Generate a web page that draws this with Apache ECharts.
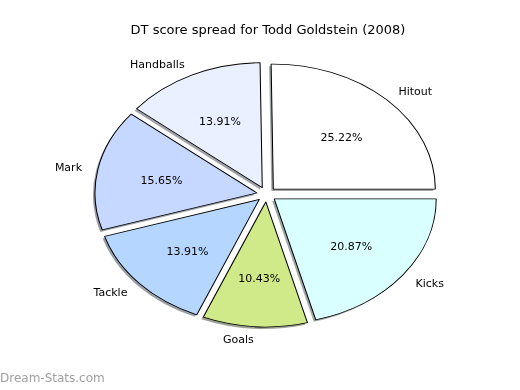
<!DOCTYPE html>
<html>
<head>
<meta charset="utf-8">
<script src="https://cdn.jsdelivr.net/npm/echarts@6/dist/echarts.min.js"></script>
<style>
  html, body { margin: 0; padding: 0; background: #ffffff; }
  #wrap { position: relative; width: 520px; height: 390px; overflow: hidden; background: #fff; }
  #pie { position: absolute; left: 0; top: 0; height: 390px; transform-origin: 0 0; }
  #txt { position: absolute; left: 0; top: 0; width: 520px; height: 390px; z-index: 2; }
</style>
</head>
<body>
<div id="wrap"><div id="pie"></div><div id="txt"></div></div>
<script>
const titleText = 'DT score spread for Todd Goldstein (2008)';
const watermark = 'Dream-Stats.com';
const categories = ['Hitout', 'Handballs', 'Mark', 'Tackle', 'Goals', 'Kicks'];
const values = [29, 16, 18, 16, 12, 24];
const colors = ['#ffffff', '#eaf0ff', '#c6d8ff', '#b5d6ff', '#d0ea8a', '#d9ffff'];

// geometry (elliptical pie as in the reference)
const CX = 266.5, CY = 194.4, RY = 125, RX = 162;
const S = RX / RY;
const EXPLODE = 0.06;
const FONT = 'DejaVu Sans';

function shadowColor(hex) {
  const r = parseInt(hex.substr(1, 2), 16), g = parseInt(hex.substr(3, 2), 16), b = parseInt(hex.substr(5, 2), 16);
  return 'rgba(' + Math.round(r * 0.3) + ',' + Math.round(g * 0.3) + ',' + Math.round(b * 0.3) + ',0.5)';
}

const total = values.reduce((a, b) => a + b, 0);

// --- pie layer (horizontally stretched) ---
const pieDiv = document.getElementById('pie');
pieDiv.style.width = (520 / S) + 'px';
pieDiv.style.transform = 'scaleX(' + S + ')';
const pieChart = echarts.init(pieDiv, null, { renderer: 'svg', width: 520 / S, height: 390 });

function pieData(shadow) {
  return categories.map((c, i) => ({
    name: c,
    value: values[i],
    selected: true,
    itemStyle: { color: shadow ? shadowColor(colors[i]) : colors[i] },
    select: { itemStyle: { color: shadow ? shadowColor(colors[i]) : colors[i] } }
  }));
}
const baseSeries = {
  type: 'pie',
  radius: [0, RY],
  startAngle: 0,
  clockwise: false,
  selectedMode: 'multiple',
  selectedOffset: EXPLODE * RY,
  label: { show: false },
  labelLine: { show: false },
  emphasis: { disabled: true },
  silent: true,
  animation: false
};
pieChart.setOption({
  animation: false,
  series: [
    Object.assign({}, baseSeries, {
      center: [CX / S - 2 / S, CY + 2],
      itemStyle: { borderWidth: 0 },
      select: { itemStyle: { borderWidth: 0 } },
      data: pieData(true)
    }),
    Object.assign({}, baseSeries, {
      center: [CX / S, CY],
      itemStyle: { borderColor: '#000', borderWidth: 0.8 },
      select: { itemStyle: { borderColor: '#000', borderWidth: 0.8 } },
      data: pieData(false)
    })
  ]
});

// --- text layer ---
const txtChart = echarts.init(document.getElementById('txt'), null, { renderer: 'canvas' });
function stretchLayout(alignBySide, dy) {
  return function (p) {
    const r = p.labelRect;
    const mx = r.x + r.width / 2, my = r.y + r.height / 2;
    const nx = CX + (mx - CX) * S;
    return {
      x: nx, y: my + dy,
      align: alignBySide ? (nx > CX ? 'left' : 'right') : 'center',
      verticalAlign: 'middle'
    };
  };
}
const labelBase = {
  type: 'pie',
  center: [CX, CY],
  startAngle: 0,
  clockwise: false,
  silent: true,
  animation: false,
  emphasis: { disabled: true },
  labelLine: { show: false },
  itemStyle: { color: 'rgba(0,0,0,0)', borderWidth: 0 }
};
txtChart.setOption({
  animation: false,
  title: {
    text: titleText,
    left: 263, top: 19, textAlign: 'center',
    textStyle: { fontFamily: FONT, fontSize: 13, fontWeight: 'normal', color: '#000' }
  },
  graphic: [{
    type: 'text', left: 0, top: 373,
    style: { text: watermark, fontFamily: FONT, fontSize: 12, fontWeight: 'normal', fill: '#a0a0a0' }
  }],
  series: [
    Object.assign({}, labelBase, {
      radius: [0, 159],
      label: {
        show: true, position: 'inside',
        fontFamily: FONT, fontSize: 11, color: '#000',
        formatter: p => (p.value / total * 100).toFixed(2) + '%'
      },
      labelLayout: stretchLayout(false, 2),
      data: categories.map((c, i) => ({ name: c, value: values[i] }))
    }),
    Object.assign({}, labelBase, {
      radius: [0, 284],
      label: {
        show: true, position: 'inside',
        fontFamily: FONT, fontSize: 11, color: '#000',
        formatter: '{b}'
      },
      labelLayout: stretchLayout(true, 1),
      data: categories.map((c, i) => ({ name: c, value: values[i] }))
    })
  ]
});
</script>
</body>
</html>
